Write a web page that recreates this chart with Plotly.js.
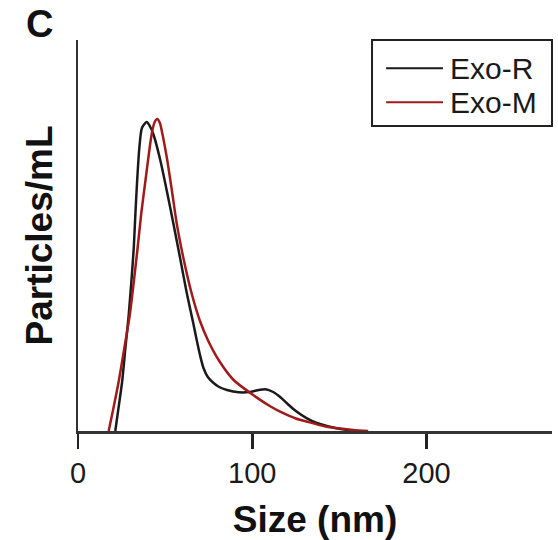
<!DOCTYPE html>
<html>
<head>
<meta charset="utf-8">
<script src="https://cdn.plot.ly/plotly-3.0.1.min.js"></script>
<style>html,body{margin:0;padding:0;background:#fff;}#chart{width:558px;height:540px;}</style>
</head>
<body>
<div id="chart"></div>
<script>
// Size distribution (nm) vs particle concentration (arbitrary units)
var exoRSize = [21.4, 23, 25.3, 27.2, 29.1, 30.6, 32, 32.9, 33.9, 35.2, 36.7, 39.4, 41.5, 43.4, 47.2, 51.1, 54.9, 58.7, 62.3, 66, 68, 70, 72, 74.5, 77.8, 81, 85.5, 92.2, 98.5, 103, 107.5, 112, 116, 119.9, 125, 131.4, 137, 142.8, 150.5, 160];
var exoRConc = [0, 20, 49, 83, 116, 149, 183, 216, 249, 283, 303, 309, 304, 296, 271, 239, 206, 172, 139, 109, 92, 76, 63, 54, 48, 44, 41, 38.7, 39, 40.7, 41.7, 39, 34, 27.7, 20, 12.7, 8, 5, 2, 0];
var exoMSize = [17.6, 20, 23.3, 26.6, 29.7, 32, 34.2, 36.2, 38.6, 41.1, 42.5, 44, 45.5, 47, 48.2, 51.1, 54, 56.8, 60.6, 65, 70, 74.5, 80.7, 89.3, 98.9, 110.3, 116, 125, 135, 142, 150.5, 158, 166.5];
var exoMConc = [0, 20, 49, 83, 116, 149, 183, 216, 249, 283, 299, 309, 312, 308, 299, 272, 239, 206, 172, 139, 110, 91, 71, 51, 38, 24.7, 19.3, 12.5, 7.7, 4.5, 2.5, 1, 0];
var seriesNames = ['Exo-R', 'Exo-M'];
var seriesColors = ['#1a1a1a', '#a01a1a'];
var xTicks = [0, 100, 200];

var traces = [
  {x: exoRSize, y: exoRConc, name: seriesNames[0], type: 'scatter', mode: 'lines',
   line: {color: seriesColors[0], width: 2.5, shape: 'spline', smoothing: 0.7}},
  {x: exoMSize, y: exoMConc, name: seriesNames[1], type: 'scatter', mode: 'lines',
   line: {color: seriesColors[1], width: 2.5, shape: 'spline', smoothing: 0.7}}
];

// legend drawn as a box with sample lines and labels (paper coordinates)
var legRows = [0.928, 0.841];
var shapes = [
  {type: 'rect', xref: 'paper', yref: 'paper', x0: 0.6203, x1: 1.0, y0: 0.780, y1: 1.0,
   line: {color: '#222', width: 2}, fillcolor: '#fff', layer: 'above'}
];
var annotations = [
  {text: '<b>C</b>', xref: 'paper', yref: 'paper', x: -0.082, y: 1.04,
   xanchor: 'center', yanchor: 'middle', showarrow: false,
   font: {size: 38, color: '#111'}}
];
seriesNames.forEach(function (n, i) {
  shapes.push({type: 'line', xref: 'paper', yref: 'paper', x0: 0.650, x1: 0.770,
    y0: legRows[i], y1: legRows[i], line: {color: seriesColors[i], width: 2}, layer: 'above'});
  annotations.push({text: n, xref: 'paper', yref: 'paper', x: 0.781, y: legRows[i],
    xanchor: 'left', yanchor: 'middle', showarrow: false,
    font: {size: 30, color: '#1a1a1a'}});
});

var layout = {
  width: 558, height: 540,
  margin: {l: 78, r: 6, t: 40, b: 109},
  paper_bgcolor: '#fff', plot_bgcolor: '#fff',
  font: {family: '"Liberation Sans", Arial, sans-serif', color: '#1a1a1a'},
  showlegend: false,
  xaxis: {
    range: [0, 272], tickvals: xTicks, ticktext: xTicks.map(String),
    showline: true, linecolor: '#333', linewidth: 2.5,
    ticks: 'outside', ticklen: 15, tickwidth: 2.5, tickcolor: '#222',
    tickfont: {size: 29, color: '#1a1a1a'},
    showgrid: false, zeroline: false,
    title: {text: '<b>Size (nm)</b>', font: {size: 37, color: '#111'}, standoff: 23}
  },
  yaxis: {
    range: [0, 391], showticklabels: false, ticks: '',
    showline: true, linecolor: '#333', linewidth: 2.5,
    showgrid: false, zeroline: false,
    title: {text: '<b>Particles/mL</b>', font: {size: 37, color: '#111'}, standoff: 12}
  },
  shapes: shapes,
  annotations: annotations
};

Plotly.newPlot('chart', traces, layout, {displayModeBar: false, staticPlot: true});
</script>
</body>
</html>
